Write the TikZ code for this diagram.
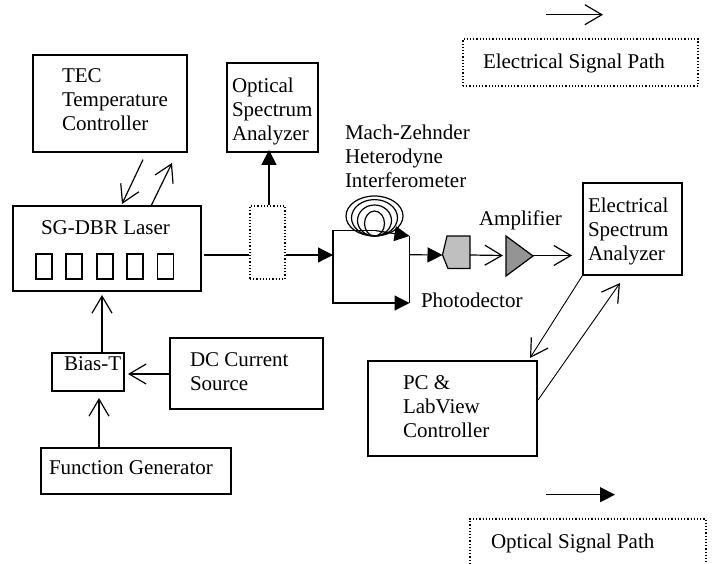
\documentclass[tikz,border=0pt]{standalone}
\usepackage{fontspec}
\setmainfont{Liberation Serif}
\usetikzlibrary{arrows.meta,calc}
\tikzset{
  box/.style={draw,line width=1.2pt,inner sep=0pt},
  dotbox/.style={draw,line width=1.2pt,dotted,inner sep=0pt},
  lab/.style={inner sep=0pt,outer sep=0pt,align=left,anchor=north west,font=\fontsize{21}{24}\selectfont},
  wire/.style={line width=1.2pt},
  thinwire/.style={line width=0.9pt},
  elec/.style={wire,-{Straight Barb[length=17pt,width=20pt,line width=1.2pt]}},
  opt/.style={wire,-{Triangle[length=15pt,width=15pt]}},
}
\begin{document}
\begin{tikzpicture}[x=1pt,y=-1pt]
\useasboundingbox (0,0) rectangle (712,564);
% boxes
\node[box,minimum width=154pt,minimum height=97pt] (tec) at (110,103.5) {};
\node[lab] (tect) at (62,69) {TEC\\Temperature\\Controller};
\node[box,minimum width=91pt,minimum height=89pt] (osa) at (272.5,107.5) {};
\node[lab] (osat) at (232,78) {Optical\\Spectrum\\Analyzer};
\node[box,minimum width=188pt,minimum height=85pt] (laser) at (107,248.5) {};
\node[lab] (lasert) at (41,221) {SG-DBR Laser};
\foreach \n/\x in {1/44,2/74,3/105,4/135,5/165.5}{
  \node[box,minimum width=16pt,minimum height=25pt] (s\n) at (\x,266.5) {};
}
\node[box,minimum width=72pt,minimum height=38pt] (bias) at (88,372) {};
\node[lab] (biast) at (64,357) {Bias-T};
\node[box,minimum width=153pt,minimum height=71pt] (dc) at (246.5,373.5) {};
\node[lab] (dct) at (190,353) {DC Current\\Source};
\node[box,minimum width=190pt,minimum height=46pt] (fg) at (136,471) {};
\node[lab] (fgt) at (49,461) {Function Generator};
\node[dotbox,minimum width=35pt,minimum height=73pt] (split) at (267.5,242.5) {};
\node[box,minimum width=99pt,minimum height=92pt] (esa) at (632.5,229) {};
\node[lab] (esat) at (588,198) {Electrical\\Spectrum\\Analyzer};
\node[box,minimum width=169pt,minimum height=95pt] (pc) at (452.5,408.5) {};
\node[lab] (pct) at (403,376) {PC \&\\LabView\\Controller};
% legend
\node[dotbox,minimum width=235pt,minimum height=47pt] (l1) at (580.5,62.5) {};
\node[lab] (l1t) at (483,54) {Electrical Signal Path};
\coordinate (l1a) at (546,14.7);
\coordinate (l1b) at (603,14.7);
\draw[elec] (l1a) -- (l1b);
\draw[dotted,line width=1.2pt] (470,564) -- (470,519) -- (706,519) -- (706,564);
\node[lab] (l2t) at (491,534) {Optical Signal Path};
\coordinate (l2a) at (546,494.7);
\coordinate (l2b) at (615,494.7);
\draw[opt] (l2a) -- (l2b);
% labels
\node[lab] (mzt) at (345,125) {Mach-Zehnder\\Heterodyne\\Interferometer};
\node[lab] (ampt) at (479,211) {Amplifier};
\node[lab] (pdt) at (421,293) {Photodector};
% coil
\foreach \rx/\ry in {28.5/20,23/18.2,17/15.5,10/12.5}{
  \draw[wire] (374.5,236-\ry) ellipse [x radius=\rx,y radius=\ry];
}
% components
\draw[wire,fill=black!25] (447,236) -- (470,236) -- (470,268.5) -- (448,268.5) -- (442.5,255) -- cycle;
\coordinate (detl) at (442.5,255);
\coordinate (detr) at (470,255);
\draw[wire,fill=black!42] (506,236) -- (533,256) -- (506,276) -- cycle;
\coordinate (ampl) at (503,255.5);
\coordinate (ampr) at (533,255.5);
% interferometer paths
\coordinate (mztl) at (333,230.5);
\coordinate (mzbl) at (333,303);
\coordinate (mzin) at (333,255);
\coordinate (mztr) at (409.5,236);
\coordinate (mzbr) at (409.5,303);
\draw[wire] (mztl) -- (375,230.5);
\draw[opt] (375,230.5) -- (mztr);
\draw[opt] (mztl) -- (mzbl) -- (mzbr);
\draw[wire] (mztr) -- (mzbr);
\draw[opt] ($(mztr)!0.28!(mzbr)$) -- (detl);
% connectors
\draw[elec] ($(tec.south)+(33,7)$) coordinate (ta) -- (122,204) coordinate (tb);
\draw[elec] (151,206) coordinate (tc) -- (172,163) coordinate (td);
\draw[opt] (split.north) ++(1.5,0) -- ++(0,-55.5) coordinate (osain);
\draw[wire] (204,255) coordinate (lout) -- (split.west |- lout);
\draw[opt] (split.east |- mzin) -- (mzin);
\draw[elec] (detr) -- (ampl);
\draw[elec] (ampr) -- (572,255.5) coordinate (esain);
\draw[thinwire,-{Straight Barb[length=17pt,width=20pt,line width=1.2pt]}] (esa.south west) -- (530,358) coordinate (pcin);
\draw[thinwire,-{Straight Barb[length=17pt,width=20pt,line width=1.2pt]}] (538,400) coordinate (pcout) -- (620,283) coordinate (esaret);
\draw[elec] (bias.north -| 102,353) coordinate (bn) -- (102,295);
\draw[elec] (dc.west |- 0,374) coordinate (dw) -- (128,374);
\draw[elec] (99,448) coordinate (fn) -- (99,398);
\end{tikzpicture}
\end{document}
